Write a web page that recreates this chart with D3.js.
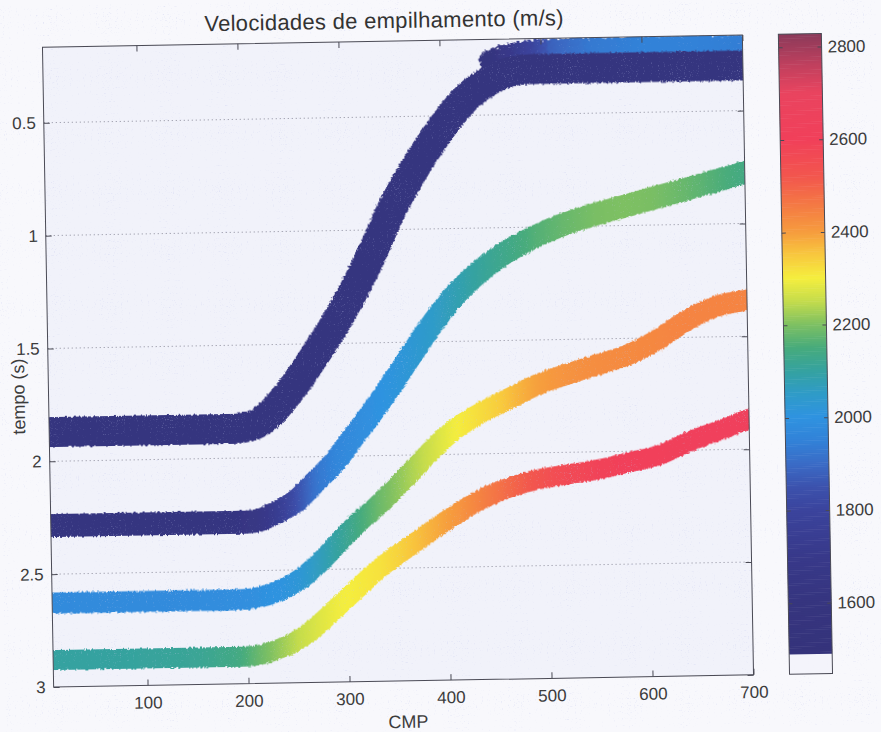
<!DOCTYPE html>
<html>
<head>
<meta charset="utf-8">
<script src="https://cdn.jsdelivr.net/npm/d3@7"></script>
<style>
  html, body { margin: 0; padding: 0; background: #f8f8fc; }
  svg { display: block; font-family: "Liberation Sans", Arial, Helvetica, sans-serif; }
</style>
</head>
<body>
<svg id="chart" width="881" height="732"></svg>
<script>
// ---- data ---------------------------------------------------------------
// CMP positions at which each reflector was sampled
const cmpSamples = [8, 50, 100, 150, 190, 210, 230, 250, 270, 290, 310, 330, 350, 370,
                    390, 410, 430, 450, 470, 490, 520, 550, 580, 610, 640, 670, 700];

// two-way time (s) of the reflectors
const horizon1Time = [1.87, 1.87, 1.87, 1.87, 1.87, 1.855, 1.79, 1.685, 1.56, 1.425, 1.275, 1.10, 0.91, 0.755,
                      0.62, 0.50, 0.405, 0.345, 0.31, 0.30, 0.30, 0.30, 0.30, 0.30, 0.30, 0.30, 0.30];
const horizon2Time = [2.285, 2.285, 2.285, 2.285, 2.285, 2.28, 2.245, 2.195, 2.11, 2.02, 1.905, 1.79, 1.665, 1.535,
                      1.41, 1.30, 1.215, 1.145, 1.09, 1.045, 0.99, 0.95, 0.915, 0.88, 0.845, 0.81, 0.775];
const horizon3Time = [2.628, 2.628, 2.628, 2.628, 2.628, 2.62, 2.595, 2.55, 2.48, 2.39, 2.30, 2.225, 2.14, 2.05,
                      1.96, 1.885, 1.83, 1.785, 1.742, 1.70, 1.655, 1.615, 1.575, 1.51, 1.425, 1.365, 1.34];
const horizon4Time = [2.88, 2.88, 2.88, 2.88, 2.88, 2.875, 2.85, 2.81, 2.745, 2.665, 2.585, 2.505, 2.44, 2.38,
                      2.318, 2.262, 2.21, 2.17, 2.14, 2.118, 2.098, 2.078, 2.05, 2.02, 1.962, 1.915, 1.865];

// stacking velocities (m/s) along each reflector
const horizon1Vel = [1600, 1600, 1600, 1600, 1600, 1600, 1600, 1600, 1600, 1600, 1600, 1600, 1600, 1600,
                     1600, 1600, 1600, 1600, 1600, 1600, 1600, 1600, 1600, 1600, 1600, 1600, 1600];
const horizon2Vel = [1610, 1610, 1610, 1610, 1620, 1650, 1730, 1840, 1920, 1960, 1980, 1995, 2010, 2030,
                     2050, 2075, 2100, 2120, 2140, 2160, 2180, 2195, 2200, 2195, 2180, 2160, 2140];
const horizon3Vel = [1975, 1975, 1975, 1980, 1985, 1990, 2000, 2020, 2060, 2100, 2140, 2180, 2210, 2240,
                     2270, 2300, 2320, 2340, 2370, 2395, 2415, 2425, 2430, 2435, 2440, 2440, 2440];
const horizon4Vel = [2100, 2100, 2105, 2115, 2140, 2180, 2215, 2250, 2275, 2295, 2305, 2315, 2335, 2360,
                     2385, 2410, 2440, 2470, 2500, 2530, 2565, 2590, 2600, 2605, 2610, 2615, 2620];

// faster shallow event riding on top of the first reflector
const shallowCmp  = [450, 480, 510, 550, 600, 650, 700];
const shallowTime = [0.26, 0.225, 0.215, 0.212, 0.21, 0.21, 0.21];
const shallowVel  = [1600, 1750, 1880, 1930, 1950, 1950, 1940];

// axis ticks
const cmpTicks = [100, 200, 300, 400, 500, 600, 700];
const timeTicks = [0.5, 1, 1.5, 2, 2.5, 3];
const velocityTicks = [1600, 1800, 2000, 2200, 2400, 2600, 2800];

// colour map (velocity -> colour); values below the first stop are blank
const colorMapValues = [1490, 1600, 1700, 1800, 1850, 1900, 1950, 2000, 2050, 2100, 2150, 2200,
                        2250, 2300, 2350, 2400, 2460, 2520, 2600, 2700, 2760, 2828];
const colorMapColors = ["#35337b", "#36357f", "#38398a", "#3b449d", "#3c52ad", "#3a6cc6", "#3282d8",
                        "#2f93e0", "#2f9bc8", "#35a2a0", "#47ab7c", "#7ec062", "#c4dc4c", "#f5ee3e",
                        "#f8c83e", "#f69c3e", "#f47844", "#f2564e", "#f1405a", "#e9445f", "#c0405e", "#8a3a5a"];
const blankColor = "#f4f4fb";

// ---- layout -------------------------------------------------------------
const plot = { left: 48, right: 748, top: 41, bottom: 681 };
const cbar = { left: 784, right: 827 };
const textColor = "#3c3c3c";

const svg = d3.select("#chart");
const defs = svg.append("defs");

const x = d3.scaleLinear().domain([7, 700]).range([plot.left, plot.right]);
const y = d3.scaleLinear().domain([0.165, 3]).range([plot.top, plot.bottom]);
const colorScale = d3.scaleLinear().domain(colorMapValues).range(colorMapColors)
  .interpolate(d3.interpolateRgb).clamp(true);
const cbScale = d3.scaleLinear().domain([1447, 2828]).range([plot.bottom, plot.top]);

// filters: ragged band edges and fine paper grain
function roughFilter(id, freq, scale, seed) {
  const f = defs.append("filter").attr("id", id)
    .attr("filterUnits", "userSpaceOnUse")
    .attr("x", 0).attr("y", 0).attr("width", 881).attr("height", 732);
  f.append("feTurbulence").attr("type", "fractalNoise").attr("baseFrequency", freq)
    .attr("numOctaves", 2).attr("seed", seed).attr("result", "n");
  f.append("feDisplacementMap").attr("in", "SourceGraphic").attr("in2", "n")
    .attr("scale", scale).attr("xChannelSelector", "R").attr("yChannelSelector", "G");
}
roughFilter("rough", 0.45, 4, 7);
roughFilter("roughStrong", 0.3, 9, 11);

const grain = defs.append("filter").attr("id", "grain")
  .attr("filterUnits", "userSpaceOnUse")
  .attr("x", 0).attr("y", 0).attr("width", 881).attr("height", 732);
grain.append("feTurbulence").attr("type", "fractalNoise").attr("baseFrequency", 0.85)
  .attr("numOctaves", 1).attr("seed", 3).attr("result", "t");
grain.append("feColorMatrix").attr("in", "t").attr("type", "matrix")
  .attr("values", "0 0 0 0 0.55  0 0 0 0 0.58  0 0 0 0 0.85  5 0 0 0 -2.9");

defs.append("clipPath").attr("id", "plotClip")
  .append("rect").attr("x", plot.left).attr("y", plot.top)
  .attr("width", plot.right - plot.left).attr("height", plot.bottom - plot.top);

// the whole figure sits slightly askew on the page
const root = svg.append("g").attr("transform", "rotate(-1, 398, 361)");

// ---- plot area ----------------------------------------------------------
root.append("rect")
  .attr("x", plot.left).attr("y", plot.top)
  .attr("width", plot.right - plot.left).attr("height", plot.bottom - plot.top)
  .attr("fill", "#f1f2fa");

// dotted horizontal grid
root.append("g").selectAll("line")
  .data(timeTicks.filter(t => t < 3))
  .join("line")
  .attr("x1", plot.left).attr("x2", plot.right)
  .attr("y1", d => y(d)).attr("y2", d => y(d))
  .attr("stroke", "#80808f").attr("stroke-width", 0.9)
  .attr("stroke-dasharray", "1,3");

// reflectors, each coloured by its velocity along CMP
const bands = [
  { id: "h0", cmp: shallowCmp, time: shallowTime, vel: shallowVel, width: 22, filter: "roughStrong" },
  { id: "h1", cmp: cmpSamples, time: horizon1Time, vel: horizon1Vel, width: 30, filter: "rough" },
  { id: "h2", cmp: cmpSamples, time: horizon2Time, vel: horizon2Vel, width: 23, filter: "rough" },
  { id: "h3", cmp: cmpSamples, time: horizon3Time, vel: horizon3Vel, width: 21, filter: "rough" },
  { id: "h4", cmp: cmpSamples, time: horizon4Time, vel: horizon4Vel, width: 20, filter: "rough" }
];

bands.forEach(b => {
  const c0 = b.cmp[0], c1 = b.cmp[b.cmp.length - 1];
  const velAt = d3.scaleLinear().domain(b.cmp).range(b.vel);
  const g = defs.append("linearGradient").attr("id", "grad-" + b.id)
    .attr("gradientUnits", "userSpaceOnUse")
    .attr("x1", x(c0)).attr("x2", x(c1)).attr("y1", 0).attr("y2", 0);
  const n = 120;
  for (let k = 0; k <= n; k++) {
    const c = c0 + (c1 - c0) * k / n;
    g.append("stop").attr("offset", k / n).attr("stop-color", colorScale(velAt(c)));
  }
});

const line = d3.line().x(d => x(d[0])).y(d => y(d[1])).curve(d3.curveMonotoneX);

root.append("g").attr("clip-path", "url(#plotClip)")
  .selectAll("path")
  .data(bands)
  .join("path")
  .attr("filter", b => `url(#${b.filter})`)
  .attr("d", b => line(b.cmp.map((c, i) => [c, b.time[i]])))
  .attr("fill", "none")
  .attr("stroke", b => `url(#grad-${b.id})`)
  .attr("stroke-width", b => b.width)
  .attr("stroke-linecap", b => b.id === "h0" ? "round" : "square")
  .attr("stroke-linejoin", "round");

// paper grain over the plot
root.append("rect")
  .attr("x", plot.left).attr("y", plot.top)
  .attr("width", plot.right - plot.left).attr("height", plot.bottom - plot.top)
  .attr("filter", "url(#grain)").attr("opacity", 0.35);

// ---- axes (ticks point inward on all four sides) ------------------------
const styleAxis = g => {
  g.select(".domain").remove();
  g.selectAll(".tick line").attr("stroke", "#4a4a55").attr("stroke-width", 1);
  g.selectAll("text").attr("fill", textColor).attr("font-size", 17);
};

root.append("g").attr("transform", `translate(0,${plot.bottom})`)
  .call(d3.axisBottom(x).tickValues(cmpTicks).tickSizeInner(-6).tickSizeOuter(0).tickPadding(11))
  .call(styleAxis);
root.append("g").attr("transform", `translate(0,${plot.top})`)
  .call(d3.axisTop(x).tickValues(cmpTicks).tickSizeInner(-6).tickSizeOuter(0).tickFormat(""))
  .call(styleAxis);
root.append("g").attr("transform", `translate(${plot.left},0)`)
  .call(d3.axisLeft(y).tickValues(timeTicks).tickSizeInner(-6).tickSizeOuter(0).tickPadding(8)
    .tickFormat(d => String(d)))
  .call(styleAxis);
root.append("g").attr("transform", `translate(${plot.right},0)`)
  .call(d3.axisRight(y).tickValues(timeTicks).tickSizeInner(-6).tickSizeOuter(0).tickFormat(""))
  .call(styleAxis);

root.append("rect")
  .attr("x", plot.left).attr("y", plot.top)
  .attr("width", plot.right - plot.left).attr("height", plot.bottom - plot.top)
  .attr("fill", "none").attr("stroke", "#4a4a55").attr("stroke-width", 1);

// titles
root.append("text")
  .attr("x", 390).attr("y", 28).attr("text-anchor", "middle")
  .attr("font-size", 22).attr("letter-spacing", 0.3).attr("fill", "#333")
  .text("Velocidades de empilhamento (m/s)");
root.append("text")
  .attr("x", 402).attr("y", 728).attr("text-anchor", "middle")
  .attr("font-size", 18).attr("fill", textColor)
  .text("CMP");
root.append("text")
  .attr("transform", "translate(24,390) rotate(-90)").attr("text-anchor", "middle")
  .attr("font-size", 18).attr("fill", textColor)
  .text("tempo (s)");

// ---- colour bar ---------------------------------------------------------
const cbStep = 4;
const cbValues = d3.range(1447, 2828, cbStep);
root.append("g").selectAll("rect")
  .data(cbValues)
  .join("rect")
  .attr("x", cbar.left).attr("width", cbar.right - cbar.left)
  .attr("y", d => cbScale(Math.min(d + cbStep, 2828)))
  .attr("height", d => cbScale(d) - cbScale(Math.min(d + cbStep, 2828)) + 0.6)
  .attr("fill", d => d < colorMapValues[0] ? blankColor : colorScale(d));

root.append("g").attr("transform", `translate(${cbar.left},0)`)
  .call(d3.axisRight(cbScale).tickValues(velocityTicks).tickSizeInner(4).tickSizeOuter(0).tickFormat(""))
  .call(styleAxis);
root.append("g").attr("transform", `translate(${cbar.right},0)`)
  .call(d3.axisLeft(cbScale).tickValues(velocityTicks).tickSizeInner(4).tickSizeOuter(0).tickFormat(""))
  .call(styleAxis);
root.append("g").selectAll("text")
  .data(velocityTicks)
  .join("text")
  .attr("x", cbar.right + 6).attr("y", d => cbScale(d)).attr("dy", "0.35em")
  .attr("font-size", 17).attr("fill", textColor)
  .text(d => d);
root.append("rect")
  .attr("x", cbar.left).attr("y", plot.top)
  .attr("width", cbar.right - cbar.left).attr("height", plot.bottom - plot.top)
  .attr("fill", "none").attr("stroke", "#4a4a55").attr("stroke-width", 1);
</script>
</body>
</html>
